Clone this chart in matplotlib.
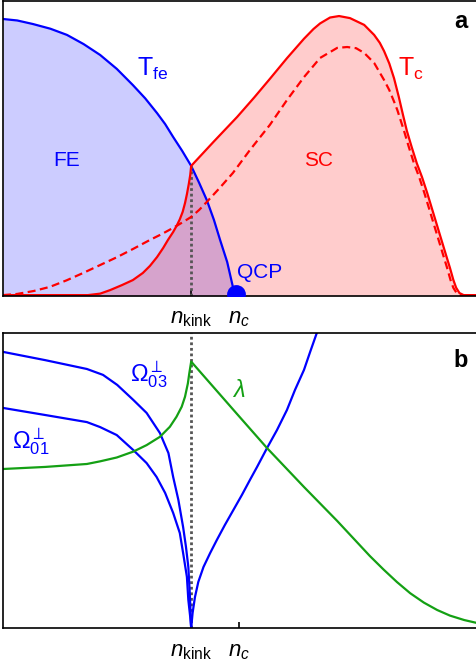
import matplotlib
matplotlib.use("Agg")
import matplotlib.pyplot as plt

plt.rcParams['font.family'] = ['Liberation Sans', 'DejaVu Sans']
plt.rcParams['mathtext.fontset'] = 'custom'
plt.rcParams['mathtext.rm'] = 'Liberation Sans'
plt.rcParams['mathtext.it'] = 'Liberation Sans:italic'
plt.rcParams['mathtext.bf'] = 'Liberation Sans:bold'

# doping positions of the two marked points
n_kink = 39.7
n_c = 49.8
n_qcp = 49.2

# panel a: ferroelectric transition temperature
tfe_x = [0, 3, 6.3, 10, 13.5, 17, 20.5, 24, 27.4, 30, 32.5, 34.2, 35.9, 37.8, 39.7, 41.4, 43.0,
         44.5, 45.8, 47.3, 48.5, 49.2]
tfe_y = [93.9, 93.4, 92.2, 90.6, 88.5, 85.4, 81.7, 77.0, 71.5, 67.0, 62.0, 58.3, 53.9, 49.2, 44.1,
         38.3, 32.5, 25.8, 19.0, 11.5, 3.1, 0]

# panel a: superconducting Tc (solid)
tc_x = [0, 10, 17.9, 20.5, 22.6, 25.1, 27.4, 29.5, 31.0, 32.5, 33.8, 34.8, 35.9, 36.7, 37.3, 37.9,
        38.4, 38.8, 39.2, 39.5, 39.7, 44.5, 49.4, 53.0, 56.3, 59.9, 63.5, 65.5, 66.9, 69.0, 70.9,
        73.2, 76.2, 78.3, 79.5, 80.4, 81.5, 82.5, 83.5, 84.4, 85.2, 86.2, 87.3, 88.4, 89.5, 90.5,
        91.5, 92.5, 93.5, 94.3, 95.0, 95.6, 96.3, 97.2, 100]
tc_y = [0.3, 0.3, 0.3, 0.8, 2.0, 3.7, 5.4, 7.8, 10.2, 13.2, 16.3, 19.0, 21.7, 24.0, 26.0, 28.5,
        31.5, 34.5, 38.0, 41.0, 44.1, 52.4, 60.7, 67.3, 73.6, 80.6, 87.2, 90.5, 92.4, 94.4, 94.9,
        94.2, 91.9, 88.5, 85.8, 83.0, 78.8, 73.8, 67.5, 61.3, 56.0, 50.6, 45.0, 40.3, 34.9, 29.6,
        24.3, 19.0, 13.7, 9.5, 5.5, 2.8, 1.0, 0.3, 0.3]

# panel a: Tc without ferroelectric fluctuations (dashed)
tcd_x = [0, 3.0, 6.5, 9.9, 13.4, 16.9, 20.5, 24.1, 27.5, 31.0, 33.5, 35.9, 37.8, 39.7, 41.4, 43.0,
         45.7, 48.5, 52.1, 56.3, 59.9, 63.5, 66.9, 70.5, 72.6, 74.5, 76.2, 78.3, 80.4, 81.5, 82.5,
         83.2, 83.8, 84.6, 85.6, 86.7, 87.8, 88.9, 89.9, 90.9, 91.9, 92.9, 93.7, 94.4, 95.0, 95.7,
         96.6, 100]
tcd_y = [0.3, 0.7, 1.7, 3.1, 5.3, 7.8, 10.5, 13.2, 16.0, 19.0, 21.0, 23.1, 24.9, 26.8, 29.2, 31.9,
         36.6, 41.7, 49.5, 58.0, 66.4, 74.2, 80.7, 84.1, 84.4, 84.0, 82.4, 79.0, 73.2, 69.8, 65.9,
         63.0, 60.0, 56.0, 50.6, 45.0, 40.3, 34.9, 29.6, 24.3, 19.0, 13.7, 9.5, 5.5, 2.8, 1.0,
         0.3, 0.3]

# panel b: soft mode frequencies
om03_x = [0, 8.9, 17.7, 21.1, 24.1, 27.5, 30.3, 33.1, 34.9, 35.9, 37.0, 38.0, 38.6, 39.1, 39.4, 39.7]
om03_y = [93.6, 90.8, 87.8, 85.8, 82.4, 77.3, 72.9, 66.1, 59.3, 51.2, 43.4, 34.2, 27.5, 20.7, 11.9, 0]
om01_x = [0, 8.9, 17.7, 20.5, 24.0, 27.5, 30.3, 32.4, 34.2, 35.9, 37.3, 38.0, 38.8, 39.1, 39.5, 39.7]
om01_y = [74.6, 72.2, 69.8, 68.1, 65.4, 60.3, 55.9, 51.2, 45.8, 39.0, 32.2, 25.4, 17.3, 9.5, 3.7, 0]
omr_x = [39.7, 40.0, 40.5, 41.2, 42.3, 43.7, 45.1, 46.8, 48.6, 50.4, 52.1, 53.6, 55.7, 57.8, 59.9,
         61.6, 63.5, 64.8, 66.2, 66.7]
omr_y = [0, 5.1, 10.5, 15.6, 20.7, 25.4, 29.8, 34.9, 40.0, 45.1, 50.2, 54.6, 61.0, 67.1, 73.9,
         80.7, 87.5, 93.6, 100, 102.4]

# panel b: coupling constant lambda
lam_x = [0, 8.9, 17.7, 20.5, 24.0, 27.5, 30.3, 33.1, 35.2, 36.6, 37.7, 38.4, 39.0, 39.3, 39.7,
         49.4, 55.7, 63.5, 70.5, 77.4, 80.3, 83.1, 85.9, 88.8, 91.6, 94.3, 97.3, 100]
lam_y = [53.9, 54.6, 55.6, 56.5, 57.8, 59.8, 62.0, 64.8, 68.2, 71.6, 75.0, 78.4, 82.9, 86.3, 90.3,
         72.5, 61.0, 47.8, 36.3, 24.4, 19.8, 15.6, 11.8, 8.6, 6.1, 4.2, 2.7, 1.7]

tick_pos = [n_kink, n_c]
tick_lab = [r'$n_{\mathrm{kink}}$', r'$n_c$']

blue = '#0000ff'
red = '#ff0000'
green = '#14a014'

fig = plt.figure(figsize=(4.77, 6.67), dpi=100)
ax1 = fig.add_axes([3 / 477, 371 / 667, 474 / 477, 295 / 667])
ax2 = fig.add_axes([3 / 477, 39 / 667, 474 / 477, 295 / 667])

for ax in (ax1, ax2):
    ax.set_xlim(0, 100)
    ax.set_ylim(0, 100)
    ax.set_yticks([])
    ax.set_xticks(tick_pos)
    ax.set_xticklabels(tick_lab, fontsize=16)
    ax.tick_params(axis='x', direction='in', length=4, width=1.2, pad=9)
    ax.spines['right'].set_visible(False)
    for s in ('left', 'top', 'bottom'):
        ax.spines[s].set_linewidth(1.2)

# panel a
ax1.fill_between(tfe_x, 0, tfe_y, color=blue, alpha=0.2, lw=0)
ax1.plot(tfe_x, tfe_y, color=blue, lw=1.6)
ax1.fill_between(tc_x, 0, tc_y, color=red, alpha=0.2, lw=0)
ax1.plot([n_kink, n_kink], [0, 44], color='#555555', lw=2, ls=(0, (1, 1)))
ax1.plot(tcd_x, tcd_y, color=red, lw=1.6, ls=(0, (3.6, 2)))
ax1.plot(tc_x, tc_y, color=red, lw=1.6)
ax1.plot([n_qcp], [0.7], 'o', color=blue, ms=12.5, clip_on=True, zorder=5)

ax1.text(13.5, 45.8, 'FE', color=blue, fontsize=15, ha='center', va='center')
ax1.text(66.5, 45.8, 'SC', color=red, fontsize=15, ha='center', va='center')
ax1.text(49.4, 7.8, 'QCP', color=blue, fontsize=15, ha='left', va='center')
ax1.text(28.3, 74.6, r'$\mathrm{T}_{\mathrm{fe}}$', color=blue, fontsize=18, ha='left', va='baseline')
ax1.text(83.3, 74.6, r'$\mathrm{T}_{\mathrm{c}}$', color=red, fontsize=18, ha='left', va='baseline')
ax1.text(98.1, 93.2, 'a', color='black', fontsize=17, fontweight='bold', ha='right', va='center')

# panel b
ax2.plot([n_kink, n_kink], [0, 100], color='#555555', lw=2, ls=(0, (1, 1)))
ax2.plot(om03_x, om03_y, color=blue, lw=1.6)
ax2.plot(om01_x, om01_y, color=blue, lw=1.6)
ax2.plot(omr_x, omr_y, color=blue, lw=1.6)
ax2.plot(lam_x, lam_y, color=green, lw=1.6)

ax2.text(26.8, 83.7, r'$\Omega^{\perp}_{03}$', color=blue, fontsize=17, ha='left', va='baseline')
ax2.text(1.9, 61.0, r'$\Omega^{\perp}_{01}$', color=blue, fontsize=17, ha='left', va='baseline')
ax2.text(48.3, 78.3, r'$\lambda$', color=green, fontsize=17, ha='left', va='baseline')
ax2.text(98.1, 90.8, 'b', color='black', fontsize=17, fontweight='bold', ha='right', va='center')

fig.savefig('out.png', dpi=100)
